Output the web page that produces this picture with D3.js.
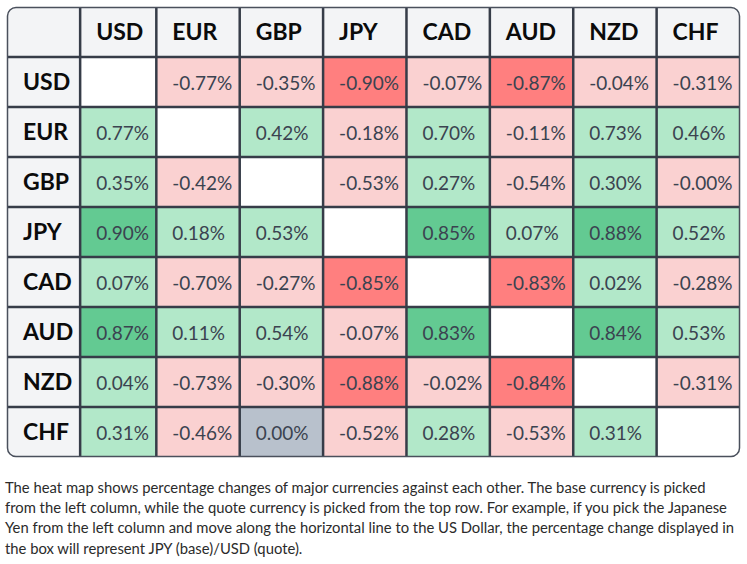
<!DOCTYPE html>
<html>
<head>
<meta charset="utf-8">
<script src="https://cdn.jsdelivr.net/npm/d3@7"></script>
<style>
  html, body { margin: 0; padding: 0; background: #fff; }
  svg { display: block; }
</style>
</head>
<body>
<script>
// ---- data ----
const currencies = ["USD", "EUR", "GBP", "JPY", "CAD", "AUD", "NZD", "CHF"];
const rowUSD = [null, -0.77, -0.35, -0.90, -0.07, -0.87, -0.04, -0.31];
const rowEUR = [0.77, null, 0.42, -0.18, 0.70, -0.11, 0.73, 0.46];
const rowGBP = [0.35, -0.42, null, -0.53, 0.27, -0.54, 0.30, -0.00];
const rowJPY = [0.90, 0.18, 0.53, null, 0.85, 0.07, 0.88, 0.52];
const rowCAD = [0.07, -0.70, -0.27, -0.85, null, -0.83, 0.02, -0.28];
const rowAUD = [0.87, 0.11, 0.54, -0.07, 0.83, null, 0.84, 0.53];
const rowNZD = [0.04, -0.73, -0.30, -0.88, -0.02, -0.84, null, -0.31];
const rowCHF = [0.31, -0.46, 0.00, -0.52, 0.28, -0.53, 0.31, null];
const captionLines = [
  "The heat map shows percentage changes of major currencies against each other. The base currency is picked",
  "from the left column, while the quote currency is picked from the top row. For example, if you pick the Japanese",
  "Yen from the left column and move along the horizontal line to the US Dollar, the percentage change displayed in",
  "the box will represent JPY (base)/USD (quote)."
];

const rows = [rowUSD, rowEUR, rowGBP, rowJPY, rowCAD, rowAUD, rowNZD, rowCHF];

// ---- layout ----
const W = 747, H = 564;
const tableX = 7, tableY = 7, tableW = 733, rowH = 50;
const padL = 16, padRHead = 7, padRVal = 6;
const headFont = "700 23px Lato";
const valFont = "400 19px Lato";

const svg = d3.select("body").append("svg").attr("width", W).attr("height", H);

const fmt = v => ((v < 0 || Object.is(v, -0)) ? "-" : "") + Math.abs(v).toFixed(2) + "%";

// measure text widths to size columns like an auto-layout table
const meas = svg.append("text").style("visibility", "hidden");
function tw(str, font) {
  meas.style("font", font).text(str);
  return meas.node().getComputedTextLength();
}
const colKeys = ["label"].concat(currencies);
const labelW = padL + d3.max(currencies, c => tw(c, headFont)) + padRHead;
const naturalVals = currencies.map((c, j) => {
  const w = d3.max(rows, r => r[j] == null ? 0 : tw(fmt(r[j]), valFont));
  return padL + Math.max(w, tw(c, headFont)) + padRVal;
});
meas.remove();
const k = (tableW - labelW) / d3.sum(naturalVals);
const widths = [labelW].concat(naturalVals.map(w => w * k));
const lefts = d3.cumsum([0].concat(widths)).map(v => v + tableX);

const x = d3.scaleOrdinal().domain(colKeys).range(lefts.slice(0, colKeys.length));
const wOf = d3.scaleOrdinal().domain(colKeys).range(widths);
const y = d3.scaleBand().domain(["header"].concat(currencies)).range([tableY, tableY + rowH * 9]).padding(0);

const color = v => {
  if (v == null) return "#ffffff";
  if (Object.is(v, 0)) return "#b8c1cc";
  if (v < 0 || Object.is(v, -0)) return Math.abs(v) >= 0.8 ? "#ff7f7f" : "#fad1d1";
  return v >= 0.8 ? "#63ca92" : "#b2e8c9";
};

const clipId = "tblclip";
svg.append("clipPath").attr("id", clipId).append("rect")
  .attr("x", tableX).attr("y", tableY).attr("width", tableW).attr("height", rowH * 9).attr("rx", 9);

const g = svg.append("g").attr("clip-path", `url(#${clipId})`);

// header row + label column background
g.append("rect").attr("x", tableX).attr("y", tableY).attr("width", tableW).attr("height", y.bandwidth()).attr("fill", "#f3f4f6");
g.append("rect").attr("x", tableX).attr("y", tableY).attr("width", wOf("label")).attr("height", rowH * 9).attr("fill", "#f3f4f6");

// cells
const cells = [];
rows.forEach((r, i) => r.forEach((v, j) => cells.push({ base: currencies[i], quote: currencies[j], v })));

g.selectAll("rect.cell").data(cells).join("rect")
  .attr("class", "cell")
  .attr("x", d => x(d.quote))
  .attr("y", d => y(d.base))
  .attr("width", d => wOf(d.quote))
  .attr("height", y.bandwidth())
  .attr("fill", d => color(d.v));

g.selectAll("text.val").data(cells.filter(d => d.v != null)).join("text")
  .attr("class", "val")
  .attr("x", d => x(d.quote) + padL)
  .attr("y", d => y(d.base) + y.bandwidth() / 2 + 1)
  .attr("dy", "0.36em")
  .style("font", valFont)
  .attr("fill", "#3b4350")
  .text(d => fmt(d.v));

// header labels
g.selectAll("text.colhead").data(currencies).join("text")
  .attr("class", "colhead")
  .attr("x", c => x(c) + padL)
  .attr("y", y("header") + y.bandwidth() / 2)
  .attr("dy", "0.36em")
  .style("font", headFont)
  .attr("fill", "#0b0b0b")
  .text(c => c);

g.selectAll("text.rowhead").data(currencies).join("text")
  .attr("class", "rowhead")
  .attr("x", x("label") + padL)
  .attr("y", c => y(c) + y.bandwidth() / 2)
  .attr("dy", "0.36em")
  .style("font", headFont)
  .attr("fill", "#0b0b0b")
  .text(c => c);

// grid lines
const lineColor = "#363c48";
g.selectAll("line.v").data(colKeys.slice(1)).join("line")
  .attr("class", "v")
  .attr("x1", k => x(k)).attr("x2", k => x(k))
  .attr("y1", tableY).attr("y2", tableY + rowH * 9)
  .attr("stroke", lineColor).attr("stroke-width", 2.5);
g.selectAll("line.h").data(currencies).join("line")
  .attr("class", "h")
  .attr("x1", tableX).attr("x2", tableX + tableW)
  .attr("y1", c => y(c)).attr("y2", c => y(c))
  .attr("stroke", lineColor).attr("stroke-width", 2.5);

// outer border
svg.append("rect")
  .attr("x", tableX + 0.5).attr("y", tableY + 0.5)
  .attr("width", tableW - 1).attr("height", rowH * 9 - 1)
  .attr("rx", 8.5)
  .attr("fill", "none").attr("stroke", "#4a505c").attr("stroke-width", 1.5);

// caption
svg.append("g").selectAll("text").data(captionLines).join("text")
  .attr("x", 5)
  .attr("y", (d, i) => 492.7 + i * 20.3)
  .style("font", "400 14.8px Lato")
  .attr("fill", "#2b2b2b")
  .text(d => d);
</script>
</body>
</html>
